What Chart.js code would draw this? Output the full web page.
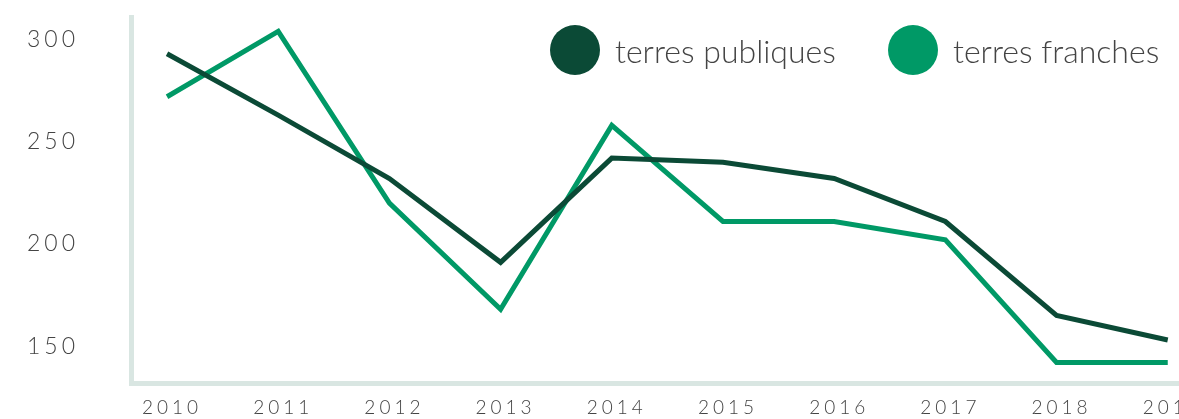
<!DOCTYPE html>
<html>
<head>
<meta charset="utf-8">
<script src="https://cdn.jsdelivr.net/npm/chart.js@4.4.1/dist/chart.umd.min.js"></script>
<style>
  html,body{margin:0;padding:0;background:#fff;}
  #wrap{position:relative;width:1179px;height:419px;overflow:hidden;}
  #box{position:absolute;left:0;top:0;width:1210px;height:419px;}
  .lg{position:absolute;top:25px;height:50px;display:flex;align-items:center;font-family:Lato,sans-serif;font-weight:300;font-size:32px;color:#444;white-space:nowrap;}
  .lg i{display:inline-block;width:50px;height:50px;border-radius:50%;margin-right:15px;}
</style>
</head>
<body>
<div id="wrap">
  <div id="box"><canvas id="c"></canvas></div>
  <div class="lg" style="left:550px"><i style="background:#0b4a36"></i>terres publiques</div>
  <div class="lg" style="left:888px"><i style="background:#009966"></i>terres franches</div>
</div>
<script>
const years = [2010, 2011, 2012, 2013, 2014, 2015, 2016, 2017, 2018, 2019];
const publiques = [293, 263, 232, 191, 242, 240, 232, 211, 165, 153];
const franches  = [272, 304, 220, 168, 258, 211, 211, 202, 142, 142];
const yTicks = [150, 200, 250, 300];

const darkGreen = '#0b4a36';
const green = '#009966';
const axisCol = '#d9e6e2';

function pts(vals){ return years.map((y,i)=>({x:y, y:vals[i]})); }

// letter spacing for tick labels
const spacing = {
  id:'spacing',
  beforeDraw(chart){ chart.ctx.letterSpacing = '4px'; }
};

new Chart(document.getElementById('c'), {
  type:'line',
  data:{
    datasets:[
      {label:'terres publiques', data:pts(publiques), borderColor:darkGreen, borderWidth:5, pointRadius:0, tension:0},
      {label:'terres franches', data:pts(franches), borderColor:green, borderWidth:5, pointRadius:0, tension:0}
    ]
  },
  options:{
    responsive:true,
    maintainAspectRatio:false,
    animation:false,
    layout:{padding:{top:17,left:0,right:0,bottom:0}},
    plugins:{legend:{display:false}, tooltip:{enabled:false}},
    scales:{
      x:{
        type:'linear', min:2009.676, max:2019.38,
        grid:{display:false},
        border:{display:true,color:axisCol,width:5},
        afterBuildTicks:s=>{ s.ticks = years.map(v=>({value:v})); },
        afterFit:s=>{ s.height = 36; s.paddingLeft = 0; s.paddingRight = 0; },
        ticks:{autoSkip:false, maxRotation:0, padding:5, labelOffset:5, color:'#444',
          font:{family:'Lato', weight:300, size:19},
          callback:v=>String(v)}
      },
      y:{
        min:132, max:311,
        grid:{display:false},
        border:{display:true,color:axisCol,width:5},
        afterBuildTicks:s=>{ s.ticks = yTicks.map(v=>({value:v})); },
        afterFit:s=>{ s.width = 131; s.paddingTop = 0; s.paddingBottom = 0; },
        ticks:{padding:44, color:'#444',
          font:{family:'Lato', weight:300, size:23}}
      }
    }
  },
  plugins:[spacing]
});
</script>
</body>
</html>
